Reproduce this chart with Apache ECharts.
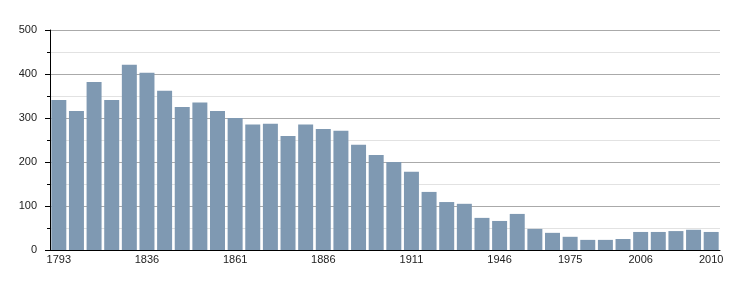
<!DOCTYPE html>
<html>
<head>
<meta charset="utf-8">
<style>
    html, body { margin: 0; padding: 0; background: #fff; }
    #chart { width: 750px; height: 300px; }
</style>
</head>
<body>
<div id="chart"></div>
<script src="https://cdn.jsdelivr.net/npm/echarts@6/dist/echarts.min.js"></script>
<script type="text/javascript">
    // 人口数据
    var years = ['1793', '1800', '1806', '1821', '1831', '1836', '1841', '1846', '1851', '1856',
        '1861', '1866', '1872', '1876', '1881', '1886', '1891', '1896', '1901', '1906',
        '1911', '1921', '1926', '1931', '1936', '1946', '1954', '1962', '1968', '1975',
        '1982', '1990', '1999', '2006', '2007', '2008', '2009', '2010'];
    var population = [341, 316, 382, 341, 421, 403, 362, 325, 335, 316,
        300, 285, 287, 259, 285, 275, 271, 239, 216, 200,
        178, 132, 109, 105, 73, 66, 82, 48, 39, 30,
        23, 23, 25, 41, 41, 43, 46, 41];
    // 显示标签的年份
    var shownLabels = ['1793', '1836', '1861', '1886', '1911', '1946', '1975', '2006', '2010'];

    var myChart = echarts.init(document.getElementById('chart'));

    var option = {
        animation: false,
        textStyle: { fontFamily: 'Liberation Sans' },
        grid: { left: 50, right: 30, top: 30, bottom: 50 },
        xAxis: {
            type: 'category',
            data: years,
            axisLine: { lineStyle: { color: '#000', width: 1 } },
            axisTick: { show: false },
            axisLabel: {
                color: '#222',
                fontSize: 11,
                margin: 4,
                interval: function (idx, val) {
                    return shownLabels.indexOf(val) >= 0;
                }
            }
        },
        yAxis: {
            type: 'value',
            min: 0,
            max: 500,
            interval: 100,
            axisLine: { show: true, lineStyle: { color: '#000', width: 1 } },
            axisTick: { show: true, length: 5, lineStyle: { color: '#000' } },
            minorTick: { show: true, splitNumber: 2, length: 3, lineStyle: { color: '#000' } },
            axisLabel: { color: '#222', fontSize: 11, margin: 13 },
            splitLine: { lineStyle: { color: '#aaa', width: 1 } },
            minorSplitLine: { show: true, lineStyle: { color: '#e2e2e2', width: 1 } }
        },
        series: [{
            type: 'bar',
            data: population,
            barCategoryGap: '15%',
            itemStyle: { color: '#7f99b2' }
        }]
    };

    myChart.setOption(option);
</script>
</body>
</html>
